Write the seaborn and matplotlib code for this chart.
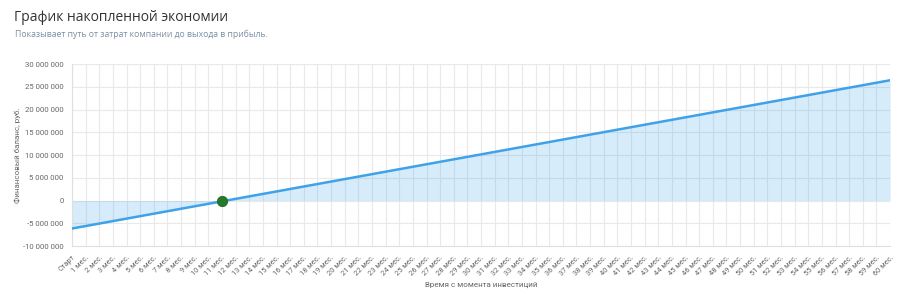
import matplotlib
matplotlib.use("Agg")
import matplotlib.pyplot as plt
import seaborn as sns
import pandas as pd

# ---- data ----
month_labels = ["Старт"] + [f"{i} мес." for i in range(1, 61)]
balance = [
    -6150000, -5607000, -5064000, -4521000, -3978000, -3435000, -2892000,
    -2349000, -1806000, -1263000, -720000, -177000, 366000, 909000,
    1452000, 1995000, 2538000, 3081000, 3624000, 4167000, 4710000,
    5253000, 5796000, 6339000, 6882000, 7425000, 7968000, 8511000,
    9054000, 9597000, 10140000, 10683000, 11226000, 11769000, 12312000,
    12855000, 13398000, 13941000, 14484000, 15027000, 15570000, 16113000,
    16656000, 17199000, 17742000, 18285000, 18828000, 19371000, 19914000,
    20457000, 21000000, 21543000, 22086000, 22629000, 23172000, 23715000,
    24258000, 24801000, 25344000, 25887000, 26430000,
]
breakeven_month = [11]
breakeven_value = [0]
y_ticks = [-10000000, -5000000, 0, 5000000, 10000000, 15000000,
           20000000, 25000000, 30000000]

title = "График накопленной экономии"
subtitle = "Показывает путь от затрат компании до выхода в прибыль."
x_label = "Время с момента инвестиций"
y_label = "Финансовый баланс, руб."

df = pd.DataFrame({"month": list(range(len(balance))), "balance": balance})

sns.set_theme(style="white")
plt.rcParams["font.family"] = ["Roboto", "DejaVu Sans"]

fig = plt.figure(figsize=(9, 2.95), dpi=100)
ax = fig.add_axes([0.080, 0.166, 0.909, 0.617])

line_color = "#3fa2e9"
ax.fill_between(df["month"], df["balance"], 0, color="#36a2eb", alpha=0.2,
                linewidth=0, zorder=1)
sns.lineplot(data=df, x="month", y="balance", ax=ax, color=line_color,
             linewidth=1.8, zorder=3)
ax.scatter(breakeven_month, breakeven_value, s=55, color="#25792b",
           edgecolor="#1f6a25", linewidth=0.6, zorder=4)

ax.set_xlim(0, len(balance) - 1)
ax.set_ylim(y_ticks[0], y_ticks[-1])
ax.set_xticks(range(len(month_labels)))
ax.set_xticklabels(month_labels, rotation=45, ha="right",
                   rotation_mode="anchor", fontsize=5.3, color="#666666")
ax.set_yticks(y_ticks)
ax.set_yticklabels([f"{v:,}".replace(",", " ") for v in y_ticks],
                   fontsize=5.6, color="#666666")
ax.grid(True, color="#e9e9e9", linewidth=0.8)
ax.set_axisbelow(True)
for s in ["top", "right"]:
    ax.spines[s].set_visible(False)
for s in ["left", "bottom"]:
    ax.spines[s].set_color("#e0e0e0")
    ax.spines[s].set_linewidth(0.8)
ax.tick_params(axis="both", length=4, color="#e9e9e9", pad=2)

ax.set_xlabel(x_label, fontsize=5.8, color="#666666", labelpad=3)
ax.set_ylabel(y_label, fontsize=5.8, color="#666666")
ax.yaxis.set_label_coords(-0.062, 0.5)

fig.text(0.016, 0.942, title, fontsize=10, color="#333333",
         family=["Open Sans", "DejaVu Sans"], va="center")
fig.text(0.017, 0.884, subtitle, fontsize=6.2, color="#7b8fa1",
         family=["Open Sans", "DejaVu Sans"], va="center")

fig.savefig("out.png", dpi=100)
